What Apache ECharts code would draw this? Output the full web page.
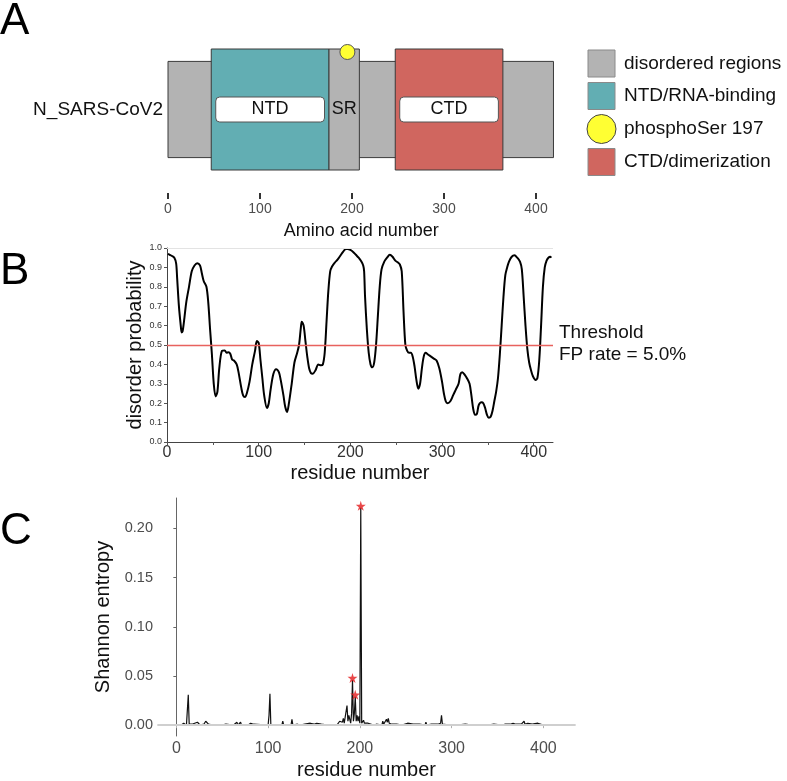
<!DOCTYPE html>
<html><head><meta charset="utf-8">
<script src="https://cdn.jsdelivr.net/npm/echarts@6/dist/echarts.min.js"></script>
<style>html,body{margin:0;padding:0;background:#fff}#c{width:787px;height:781px}</style>
</head><body><div id="c"></div>
<script>
// ---------- DATA ----------
const proteinName = ['N_SARS-CoV2'];
const domainLabels = ['', 'NTD', 'SR', 'CTD'];
const domainStart = [0, 47, 175, 247];
const domainEnd = [419, 175, 208, 364];
const phosphoSite = [195];
const legendLabels = ['disordered regions', 'NTD/RNA-binding', 'phosphoSer 197', 'CTD/dimerization'];
const aminoTicks = [0, 100, 200, 300, 400];

const residueMajorTicks = [0, 100, 200, 300, 400];
const residueMinorTicks = [0, 50, 100, 150, 200, 250, 300, 350, 400];

const disorderPoints = [
  [1,0.97],[3,0.965],[5,0.96],[8,0.95],[10,0.92],[11,0.85],[13,0.7],[15,0.6],[16,0.565],[17,0.57],
  [19,0.64],[21,0.72],[24,0.8],[27,0.88],[30,0.91],[33,0.922],[36,0.91],[38,0.87],[40,0.83],[43,0.8],
  [45,0.72],[47,0.58],[49,0.45],[51,0.3],[53,0.235],[55,0.26],[57,0.38],[60,0.47],[63,0.472],[65,0.46],
  [67,0.462],[69,0.455],[71,0.425],[73,0.42],[76,0.4],[78,0.36],[81,0.28],[83,0.24],[85,0.232],[87,0.25],
  [90,0.31],[93,0.4],[96,0.47],[98,0.52],[100,0.51],[102,0.42],[104,0.33],[106,0.24],[109,0.175],[111,0.2],
  [113,0.27],[116,0.35],[119,0.375],[122,0.36],[124,0.32],[127,0.24],[129,0.18],[131,0.155],[133,0.2],[136,0.3],
  [139,0.41],[142,0.46],[144,0.5],[146,0.59],[147,0.62],[149,0.6],[151,0.52],[153,0.44],[155,0.38],[157,0.355],
  [159,0.352],[162,0.37],[165,0.4],[168,0.395],[170,0.4],[172,0.46],[174,0.62],[176,0.78],[178,0.88],[180,0.905],
  [183,0.925],[186,0.94],[189,0.96],[192,0.98],[195,0.995],[197,0.995],[200,0.99],[203,0.98],[206,0.965],[209,0.95],
  [212,0.93],[214,0.91],[215,0.88],[216,0.75],[218,0.58],[220,0.46],[222,0.4],[224,0.385],[226,0.41],[228,0.5],
  [230,0.65],[232,0.8],[234,0.89],[237,0.93],[240,0.95],[243,0.965],[246,0.955],[249,0.935],[252,0.925],[254,0.915],
  [256,0.88],[258,0.67],[260,0.5],[262,0.47],[264,0.46],[266,0.46],[268,0.44],[270,0.39],[272,0.32],[274,0.275],
  [276,0.3],[278,0.38],[280,0.44],[282,0.46],[285,0.45],[288,0.44],[291,0.43],[294,0.42],[297,0.38],[300,0.31],
  [302,0.25],[304,0.21],[306,0.2],[309,0.21],[312,0.24],[315,0.27],[318,0.3],[320,0.35],[322,0.36],[325,0.345],
  [327,0.33],[330,0.3],[332,0.24],[334,0.17],[336,0.14],[338,0.145],[340,0.19],[343,0.205],[345,0.2],[347,0.175],
  [349,0.14],[351,0.125],[353,0.13],[355,0.16],[357,0.21],[359,0.26],[361,0.33],[363,0.45],[365,0.6],[367,0.75],
  [369,0.86],[371,0.9],[373,0.93],[376,0.955],[379,0.962],[382,0.95],[385,0.93],[387,0.89],[389,0.75],[391,0.6],
  [393,0.48],[395,0.41],[397,0.37],[399,0.34],[402,0.32],[404,0.33],[406,0.42],[408,0.6],[410,0.8],[412,0.9],
  [414,0.935],[416,0.95],[418,0.955],[419,0.95]
];
const thresholdValue = 0.5;
const thresholdText = ['Threshold', 'FP rate = 5.0%'];

const entropyPoints = [
  [2,0],[4,0.001],[5,0],[6,0.002],[7,0.001],[8,0.002],[9,0.001],[10,0.001],[11,0],[12,0.001],
  [13,0.031],[14,0.001],[15,0],[16,0.002],[17,0.001],[18,0.003],[19,0.001],[20,0.002],[21,0.004],[22,0.002],
  [23,0.003],[24,0.001],[25,0.002],[26,0],[27,0.001],[28,0],[30,0.001],[31,0.003],[32,0.004],[33,0.002],
  [34,0.003],[35,0.001],[36,0.003],[37,0],[40,0],[41,0.001],[42,0],[50,0],[54,0.001],[55,0],
  [62,0],[63,0.001],[64,0],[66,0.003],[67,0],[68,0.001],[69,0],[70,0.003],[71,0],[78,0],
  [79,0.002],[80,0.001],[81,0.002],[82,0],[84,0.001],[85,0],[100,0],[101,0.01],[102,0.032],[103,0],
  [115,0],[116,0.004],[117,0],[118,0.001],[120,0],[125,0],[126,0.006],[127,0],[132,0.001],[133,0],
  [135,0],[136,0.002],[137,0],[140,0.001],[141,0],[146,0.002],[147,0],[150,0.001],[151,0],[153,0.002],
  [154,0],[158,0.001],[159,0],[165,0],[166,0.002],[167,0],[175,0],[176,0.002],[177,0.001],[178,0.004],
  [179,0.002],[180,0.006],[181,0.003],[182,0.007],[183,0.002],[184,0.004],[185,0.003],[186,0.02],[187,0.004],[188,0.01],
  [189,0.008],[190,0.002],[191,0.012],[192,0.046],[193,0.004],[194,0.012],[195,0.029],[196,0.004],[197,0.01],[198,0.004],
  [199,0.009],[200,0.002],[201,0.221],[202,0.002],[203,0.004],[204,0.005],[205,0.002],[206,0.003],[207,0.001],[209,0.002],
  [210,0],[215,0],[216,0.001],[218,0.001],[219,0],[224,0],[225,0.004],[226,0.001],[227,0.002],[228,0.001],
  [229,0.006],[230,0.003],[231,0.007],[232,0.002],[233,0.001],[234,0.003],[235,0.001],[236,0.002],[237,0],[240,0.001],
  [241,0],[246,0],[247,0.001],[248,0],[252,0.002],[253,0],[258,0.001],[259,0],[265,0.001],[266,0],
  [271,0],[272,0.003],[273,0],[278,0.001],[279,0],[285,0.001],[286,0],[288,0.002],[289,0.01],[290,0.001],
  [291,0.002],[292,0],[298,0],[299,0.001],[300,0],[306,0],[307,0.001],[308,0],[315,0.001],[316,0],
  [322,0],[323,0.001],[324,0],[330,0],[331,0.001],[332,0],[340,0],[341,0.001],[342,0],[346,0.001],
  [347,0],[355,0],[356,0.001],[357,0.002],[358,0.001],[360,0.003],[361,0.001],[363,0.002],[364,0.001],[366,0.003],
  [367,0.002],[369,0.004],[370,0.001],[372,0.002],[373,0.001],[375,0.003],[376,0.001],[378,0.002],[379,0.004],[380,0.001],
  [381,0],[383,0.002],[384,0],[388,0.001],[389,0],[394,0.002],[395,0],[400,0],[402,0.001],[403,0],[413,0]
];
const starPoints = [[201,0.223],[192,0.048],[195,0.031]];
const entropyTicks = [0, 0.05, 0.10, 0.15, 0.20];

// ---------- STYLE ----------
const FONT = '"Liberation Sans", Arial, Helvetica, sans-serif';
const FILLS = ['#b3b3b3', '#62aeb3', '#b3b3b3', '#d0665f'];
const LEGEND_FILLS = ['#b3b3b3', '#62aeb3', '#ffff33', '#d0665f'];

const chart = echarts.init(document.getElementById('c'), null, {renderer: 'canvas'});

function renderDomain(params, api) {
  const k = params.dataIndex;
  const a = api.coord([api.value(0), 0]);
  const b = api.coord([api.value(1), 0]);
  const band = api.size([0, 1])[1];
  const h = k === 0 ? band * 0.795 : band;
  const cy = a[1];
  const children = [{
    type: 'rect',
    shape: {x: a[0], y: cy - h / 2, width: b[0] - a[0], height: h},
    style: {fill: FILLS[k], stroke: '#3a3a3a', lineWidth: 1}
  }];
  if (k === 1 || k === 3) {
    children.push({
      type: 'rect',
      shape: {x: a[0] + 4.5, y: cy - 12.5, width: b[0] - a[0] - 9, height: 25, r: 4},
      style: {fill: '#ffffff', stroke: '#555555', lineWidth: 1}
    });
  }
  if (domainLabels[k]) {
    children.push({
      type: 'text',
      style: {text: domainLabels[k], x: (a[0] + b[0]) / 2, y: cy, align: 'center', verticalAlign: 'middle',
        font: '18px ' + FONT, fill: '#111'}
    });
  }
  return {type: 'group', children};
}

function renderSite(params, api) {
  const p = api.coord([api.value(0), 0]);
  const band = api.size([0, 1])[1];
  return {type: 'circle', shape: {cx: p[0], cy: p[1] - band / 2 + 3, r: 7.5},
    style: {fill: '#ffff33', stroke: '#555', lineWidth: 1}};
}

const graphics = [
  {type: 'text', left: 0, top: 0, style: {text: 'A', font: '44px ' + FONT, fill: '#000'}},
  {type: 'text', left: 0, top: 250, style: {text: 'B', font: '44px ' + FONT, fill: '#000'}},
  {type: 'text', left: 0, top: 510, style: {text: 'C', font: '44px ' + FONT, fill: '#000'}},
  {type: 'text', x: 559, y: 333, style: {text: thresholdText[0], font: '19px ' + FONT, fill: '#111', verticalAlign: 'middle'}},
  {type: 'text', x: 559, y: 355, style: {text: thresholdText[1], font: '19px ' + FONT, fill: '#111', verticalAlign: 'middle'}}
];
const legendY = [63.5, 96, 129, 162];
legendLabels.forEach((lab, i) => {
  if (i === 2) {
    graphics.push({type: 'circle', shape: {cx: 601.5, cy: legendY[i], r: 14.5},
      style: {fill: LEGEND_FILLS[i], stroke: '#444', lineWidth: 1}});
  } else {
    graphics.push({type: 'rect', shape: {x: 588, y: legendY[i] - 13.5, width: 27, height: 27},
      style: {fill: LEGEND_FILLS[i], stroke: '#8a8a8a', lineWidth: 1}});
  }
  graphics.push({type: 'text', x: 624, y: legendY[i],
    style: {text: lab, font: '19px ' + FONT, fill: '#111', verticalAlign: 'middle'}});
});

const option = {
  animation: false,
  backgroundColor: '#ffffff',
  textStyle: {fontFamily: FONT},
  graphic: graphics,
  grid: [
    {left: 168, width: 386.4, top: 49, height: 121},
    {left: 167, width: 386, top: 248, height: 194},
    {left: 158, width: 417, top: 498, height: 245}
  ],
  xAxis: [
    {gridIndex: 0, type: 'value', min: 0, max: 420, offset: 23,
      axisLine: {show: false}, splitLine: {show: false},
      axisTick: {show: true, customValues: aminoTicks, length: 6, lineStyle: {color: '#333', width: 2}},
      axisLabel: {customValues: aminoTicks, color: '#4d4d4d', fontSize: 14, margin: 9, fontFamily: FONT},
      name: 'Amino acid number', nameLocation: 'middle', nameGap: 29,
      nameTextStyle: {fontSize: 18, color: '#111', fontFamily: FONT}},
    {gridIndex: 1, type: 'value', min: 0, max: 421,
      axisLine: {show: true, lineStyle: {color: '#444', width: 1}}, splitLine: {show: false},
      axisTick: {show: true, customValues: residueMinorTicks, length: 3, lineStyle: {color: '#555'}},
      axisLabel: {customValues: residueMajorTicks, color: '#333', fontSize: 16, margin: 3, fontFamily: FONT},
      name: 'residue number', nameLocation: 'middle', nameGap: 21,
      nameTextStyle: {fontSize: 20, color: '#111', fontFamily: FONT}},
    {gridIndex: 2, type: 'value', min: -20, max: 434.5,
      axisLine: {show: true, lineStyle: {color: '#b0b0b0', width: 1.5}}, splitLine: {show: false},
      axisTick: {show: true, customValues: residueMajorTicks, length: 3, lineStyle: {color: '#b0b0b0'}},
      axisLabel: {customValues: residueMajorTicks, color: '#4d4d4d', fontSize: 16, margin: 5, fontFamily: FONT},
      name: 'residue number', nameLocation: 'middle', nameGap: 24,
      nameTextStyle: {fontSize: 20, color: '#111', fontFamily: FONT}}
  ],
  yAxis: [
    {gridIndex: 0, type: 'category', data: proteinName,
      axisLine: {show: false}, axisTick: {show: false}, splitLine: {show: false},
      axisLabel: {color: '#111', fontSize: 19, margin: 5, fontFamily: FONT}},
    {gridIndex: 1, type: 'value', min: 0, max: 1, interval: 0.1,
      axisLine: {show: true, lineStyle: {color: '#444', width: 1}}, splitLine: {show: false},
      axisTick: {show: true, length: 3, lineStyle: {color: '#555'}},
      axisLabel: {color: '#333', fontSize: 9, margin: 5, formatter: v => v.toFixed(1), fontFamily: FONT},
      name: 'disorder probability', nameLocation: 'middle', nameGap: 20,
      nameTextStyle: {fontSize: 20, color: '#111', fontFamily: FONT}},
    {gridIndex: 2, type: 'value', min: -0.011, max: 0.231,
      axisLine: {show: true, lineStyle: {color: '#666', width: 1}}, splitLine: {show: false},
      axisTick: {show: true, customValues: entropyTicks, length: 3, lineStyle: {color: '#666'}},
      axisLabel: {customValues: entropyTicks, color: '#4d4d4d', fontSize: 14.5, margin: 5,
        formatter: v => v.toFixed(2), fontFamily: FONT},
      name: 'Shannon entropy', nameLocation: 'middle', nameGap: 30,
      nameTextStyle: {fontSize: 20, color: '#111', fontFamily: FONT}}
  ],
  series: [
    {type: 'custom', xAxisIndex: 0, yAxisIndex: 0, renderItem: renderDomain,
      encode: {x: [0, 1], y: 2},
      data: domainStart.map((s, i) => [s, domainEnd[i], 0]), silent: true},
    {type: 'custom', xAxisIndex: 0, yAxisIndex: 0, renderItem: renderSite,
      encode: {x: 0, y: 1},
      data: phosphoSite.map(p => [p, 0]), silent: true},
    {type: 'line', xAxisIndex: 1, yAxisIndex: 1, data: disorderPoints, showSymbol: false,
      smooth: 0.3, lineStyle: {color: '#000', width: 2}, silent: true,
      markLine: {silent: true, symbol: 'none', label: {show: false},
        data: [
          {yAxis: 1.0, lineStyle: {color: '#e3e3e3', width: 1, type: 'solid'}},
          {yAxis: thresholdValue, lineStyle: {color: '#e8625e', width: 1.3, type: 'solid'}}
        ]}},
    {type: 'line', xAxisIndex: 2, yAxisIndex: 2, data: entropyPoints, showSymbol: false,
      lineStyle: {color: '#111', width: 1.2}, silent: true, z: 3,
      markLine: {silent: true, symbol: 'none', label: {show: false},
        data: [{yAxis: 0, lineStyle: {color: '#cfcfcf', width: 2, type: 'solid'}}]}},
    {type: 'scatter', xAxisIndex: 2, yAxisIndex: 2, data: starPoints, z: 5,
      symbol: 'path://M50,0 L61,35 L98,35 L68,57 L79,91 L50,70 L21,91 L32,57 L2,35 L39,35 Z',
      symbolSize: 10, itemStyle: {color: '#e41a1c'}, silent: true}
  ]
};
chart.setOption(option);
</script>
</body></html>
